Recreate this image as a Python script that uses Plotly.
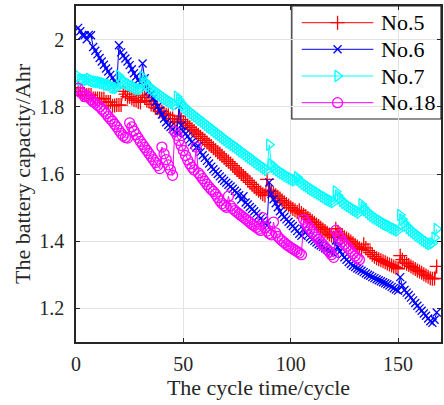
import plotly.graph_objects as go

cap_no5 = [1.857, 1.846, 1.835, 1.835, 1.835, 1.836, 1.835, 1.825, 1.825, 1.825,
           1.825, 1.824, 1.824, 1.814, 1.814, 1.814, 1.803, 1.804, 1.805, 1.805,
           1.805, 1.846, 1.838, 1.830, 1.830, 1.825, 1.820, 1.819, 1.814, 1.813,
           1.835, 1.828, 1.818, 1.817, 1.807, 1.807, 1.797, 1.796, 1.786, 1.786,
           1.780, 1.776, 1.775, 1.765, 1.765, 1.755, 1.754, 1.772, 1.762, 1.755,
           1.750, 1.744, 1.739, 1.733, 1.728, 1.722, 1.717, 1.711, 1.705, 1.700,
           1.694, 1.688, 1.683, 1.677, 1.671, 1.665, 1.660, 1.654, 1.648, 1.642,
           1.637, 1.631, 1.625, 1.618, 1.612, 1.606, 1.600, 1.594, 1.588, 1.581,
           1.575, 1.569, 1.562, 1.556, 1.550, 1.545, 1.540, 1.536, 1.584, 1.552,
           1.548, 1.543, 1.537, 1.532, 1.527, 1.521, 1.516, 1.511, 1.506, 1.500,
           1.496, 1.492, 1.487, 1.492, 1.484, 1.479, 1.474, 1.469, 1.465, 1.460,
           1.455, 1.450, 1.445, 1.440, 1.435, 1.430, 1.425, 1.420, 1.416, 1.411,
           1.437, 1.428, 1.421, 1.416, 1.412, 1.408, 1.404, 1.399, 1.394, 1.389,
           1.384, 1.379, 1.375, 1.391, 1.380, 1.372, 1.366, 1.360, 1.354, 1.349,
           1.346, 1.343, 1.340, 1.337, 1.334, 1.331, 1.328, 1.325, 1.321, 1.318,
           1.357, 1.345, 1.338, 1.333, 1.329, 1.325, 1.321, 1.317, 1.313, 1.310,
           1.306, 1.302, 1.298, 1.294, 1.290, 1.288, 1.289, 1.325]

cap_no6 = [2.035, 2.025, 2.013, 2.013, 2.001, 2.014, 2.013, 1.978, 1.967, 1.956,
           1.945, 1.935, 1.925, 1.914, 1.905, 1.895, 1.886, 1.876, 1.867, 1.983,
           1.962, 1.952, 1.944, 1.935, 1.924, 1.912, 1.900, 1.890, 1.880, 1.871,
           1.929, 1.885, 1.862, 1.848, 1.838, 1.826, 1.814, 1.801, 1.789, 1.777,
           1.765, 1.754, 1.746, 1.740, 1.733, 1.727, 1.722, 1.805, 1.745, 1.728,
           1.720, 1.712, 1.703, 1.695, 1.688, 1.679, 1.683, 1.665, 1.656, 1.648,
           1.639, 1.631, 1.622, 1.614, 1.607, 1.600, 1.593, 1.586, 1.580, 1.574,
           1.568, 1.563, 1.556, 1.550, 1.544, 1.537, 1.524, 1.534, 1.515, 1.509,
           1.502, 1.496, 1.489, 1.482, 1.475, 1.468, 1.461, 1.453, 1.446, 1.575,
           1.540, 1.525, 1.513, 1.501, 1.489, 1.480, 1.472, 1.465, 1.458, 1.451,
           1.445, 1.438, 1.430, 1.422, 1.416, 1.436, 1.426, 1.418, 1.412, 1.406,
           1.401, 1.396, 1.391, 1.387, 1.383, 1.379, 1.375, 1.371, 1.367, 1.363,
           1.402, 1.382, 1.370, 1.360, 1.352, 1.345, 1.338, 1.332, 1.327, 1.323,
           1.319, 1.316, 1.312, 1.308, 1.304, 1.300, 1.297, 1.293, 1.290, 1.287,
           1.284, 1.281, 1.278, 1.275, 1.272, 1.268, 1.264, 1.260, 1.256, 1.253,
           1.293, 1.268, 1.255, 1.247, 1.240, 1.232, 1.224, 1.216, 1.208, 1.200,
           1.193, 1.185, 1.178, 1.170, 1.162, 1.157, 1.166, 1.188]

cap_no7 = [1.891, 1.880, 1.881, 1.880, 1.880, 1.883, 1.880, 1.876, 1.875, 1.874,
           1.873, 1.871, 1.870, 1.866, 1.866, 1.864, 1.858, 1.857, 1.856, 1.892,
           1.882, 1.876, 1.872, 1.869, 1.866, 1.862, 1.860, 1.856, 1.853, 1.852,
           1.889, 1.876, 1.866, 1.862, 1.856, 1.851, 1.846, 1.841, 1.837, 1.832,
           1.827, 1.823, 1.819, 1.815, 1.811, 1.806, 1.830, 1.820, 1.811, 1.803,
           1.797, 1.791, 1.786, 1.781, 1.776, 1.771, 1.766, 1.761, 1.756, 1.751,
           1.746, 1.741, 1.736, 1.731, 1.726, 1.721, 1.716, 1.711, 1.706, 1.701,
           1.696, 1.692, 1.687, 1.683, 1.678, 1.673, 1.668, 1.664, 1.659, 1.654,
           1.649, 1.645, 1.640, 1.635, 1.630, 1.626, 1.621, 1.617, 1.612, 1.687,
           1.629, 1.622, 1.616, 1.611, 1.607, 1.603, 1.599, 1.595, 1.591, 1.587,
           1.584, 1.581, 1.590, 1.582, 1.576, 1.571, 1.567, 1.563, 1.558, 1.554,
           1.550, 1.546, 1.542, 1.538, 1.534, 1.530, 1.526, 1.523, 1.519, 1.516,
           1.548, 1.536, 1.527, 1.520, 1.514, 1.509, 1.505, 1.501, 1.497, 1.493,
           1.489, 1.485, 1.510, 1.500, 1.492, 1.486, 1.481, 1.476, 1.471, 1.467,
           1.463, 1.459, 1.455, 1.451, 1.448, 1.445, 1.441, 1.438, 1.435, 1.432,
           1.478, 1.465, 1.454, 1.446, 1.439, 1.433, 1.428, 1.423, 1.418, 1.413,
           1.408, 1.403, 1.399, 1.395, 1.391, 1.394, 1.410, 1.436]

cap_no18 = [1.855, 1.843, 1.839, 1.830, 1.833, 1.828, 1.822, 1.815, 1.811, 1.805,
            1.800, 1.793, 1.787, 1.780, 1.771, 1.764, 1.757, 1.748, 1.740, 1.730,
            1.721, 1.714, 1.709, 1.707, 1.752, 1.740, 1.728, 1.717, 1.707, 1.697,
            1.688, 1.679, 1.670, 1.661, 1.652, 1.643, 1.634, 1.625, 1.616, 1.680,
            1.660, 1.643, 1.627, 1.612, 1.596, 1.727, 1.715, 1.700, 1.685, 1.670,
            1.655, 1.642, 1.630, 1.620, 1.612, 1.680, 1.603, 1.595, 1.586, 1.578,
            1.569, 1.561, 1.554, 1.548, 1.540, 1.530, 1.520, 1.512, 1.506, 1.501,
            1.534, 1.505, 1.497, 1.491, 1.486, 1.481, 1.476, 1.471, 1.466, 1.461,
            1.456, 1.450, 1.446, 1.441, 1.436, 1.432, 1.470, 1.440, 1.430, 1.423,
            1.419, 1.457, 1.425, 1.414, 1.407, 1.401, 1.396, 1.390, 1.386, 1.381,
            1.377, 1.373, 1.369, 1.365, 1.360, 1.465, 1.455, 1.446, 1.437, 1.428,
            1.420, 1.412, 1.405, 1.397, 1.390, 1.383, 1.375, 1.368, 1.360, 1.352,
            1.432, 1.418, 1.408, 1.399, 1.391, 1.385, 1.378, 1.370, 1.363, 1.356,
            1.350, 1.345]

series_names = ["No.5", "No.6", "No.7", "No.18"]
series_data = [cap_no5, cap_no6, cap_no7, cap_no18]
series_colors = ["#FF0000", "#0000FF", "#00FFFF", "#FF00FF"]
series_symbols = ["cross-thin-open", "x-thin-open", "triangle-right-open", "circle-open"]
series_sizes = [10, 8, 10, 10]

x_ticks = [0, 50, 100, 150]
y_ticks = [1.2, 1.4, 1.6, 1.8, 2.0]
y_tick_text = ["1.2", "1.4", "1.6", "1.8", "2"]

FONT = "Liberation Serif"
AX = "#262626"

W, H = 444, 405
ML, MR, MT, MB = 76, 1, 6, 63
PW, PH = W - ML - MR, H - MT - MB


def px_to_paper(px, py):
    return (px - ML) / PW, (H - MB - py) / PH


fig = go.Figure()
for name, vals, col, sym, sz in zip(series_names, series_data, series_colors, series_symbols, series_sizes):
    fig.add_trace(go.Scatter(
        x=list(range(1, len(vals) + 1)), y=vals, name=name, mode="lines+markers",
        line=dict(color=col, width=1),
        marker=dict(symbol=sym, size=sz, color=col, line=dict(color=col, width=1.3)),
        showlegend=False,
    ))

# MATLAB-style legend (box, sample lines, markers, labels)
lx0, ly0 = px_to_paper(293, 6)
lx1, ly1 = px_to_paper(443, 119)
fig.add_shape(type="rect", xref="paper", yref="paper", x0=lx0, x1=lx1, y0=ly1, y1=ly0,
              line=dict(color=AX, width=1.2), fillcolor="white", layer="between")
row_y = [22.7, 49.3, 76.0, 102.7]
leg_mx, leg_my = [], []
for name, col, ry in zip(series_names, series_colors, row_y):
    ax0, ay = px_to_paper(303, ry)
    ax1, _ = px_to_paper(375, ry)
    fig.add_shape(type="line", xref="paper", yref="paper", x0=ax0, x1=ax1, y0=ay, y1=ay,
                  line=dict(color=col, width=1), layer="between")
    tx, _ = px_to_paper(381, ry)
    fig.add_annotation(xref="paper", yref="paper", x=tx, y=ay, text=name, showarrow=False,
                       xanchor="left", yanchor="middle",
                       font=dict(family=FONT, size=22, color="black"))
    mx, my = px_to_paper(339, ry)
    leg_mx.append(mx)
    leg_my.append(my)

for i, (col, sym, sz) in enumerate(zip(series_colors, series_symbols, series_sizes)):
    fig.add_trace(go.Scatter(
        x=[leg_mx[i]], y=[leg_my[i]], xaxis="x2", yaxis="y2", mode="markers",
        marker=dict(symbol=sym, size=sz, color=col, line=dict(color=col, width=1.3)),
        showlegend=False, hoverinfo="skip", cliponaxis=False,
    ))

axis_common = dict(
    showline=True, linecolor=AX, linewidth=1.5, mirror="ticks",
    ticks="inside", ticklen=4, tickcolor=AX, tickwidth=1,
    showgrid=True, gridcolor="#e3e3e3", gridwidth=1, zeroline=False,
    tickfont=dict(family=FONT, size=20, color=AX),
)

fig.update_layout(
    width=W, height=H,
    margin=dict(l=ML, r=MR, t=MT, b=MB),
    plot_bgcolor="white", paper_bgcolor="white",
    font=dict(family=FONT, color=AX),
    xaxis=dict(range=[0, 170], tickvals=x_ticks, ticktext=[str(v) for v in x_ticks],
               title=dict(text="The cycle time/cycle", font=dict(family=FONT, size=22, color=AX), standoff=4),
               ticklabelstandoff=3, **axis_common),
    yaxis=dict(range=[1.1, 2.1], tickvals=y_ticks, ticktext=y_tick_text,
               title=dict(text="The battery capacity/Ahr", font=dict(family=FONT, size=22, color=AX), standoff=3),
               ticklabelstandoff=6, **axis_common),
    xaxis2=dict(overlaying="x", range=[0, 1], visible=False, anchor="y2"),
    yaxis2=dict(overlaying="y", range=[0, 1], visible=False, anchor="x2"),
    showlegend=False,
)
fig.write_html("out.html")
